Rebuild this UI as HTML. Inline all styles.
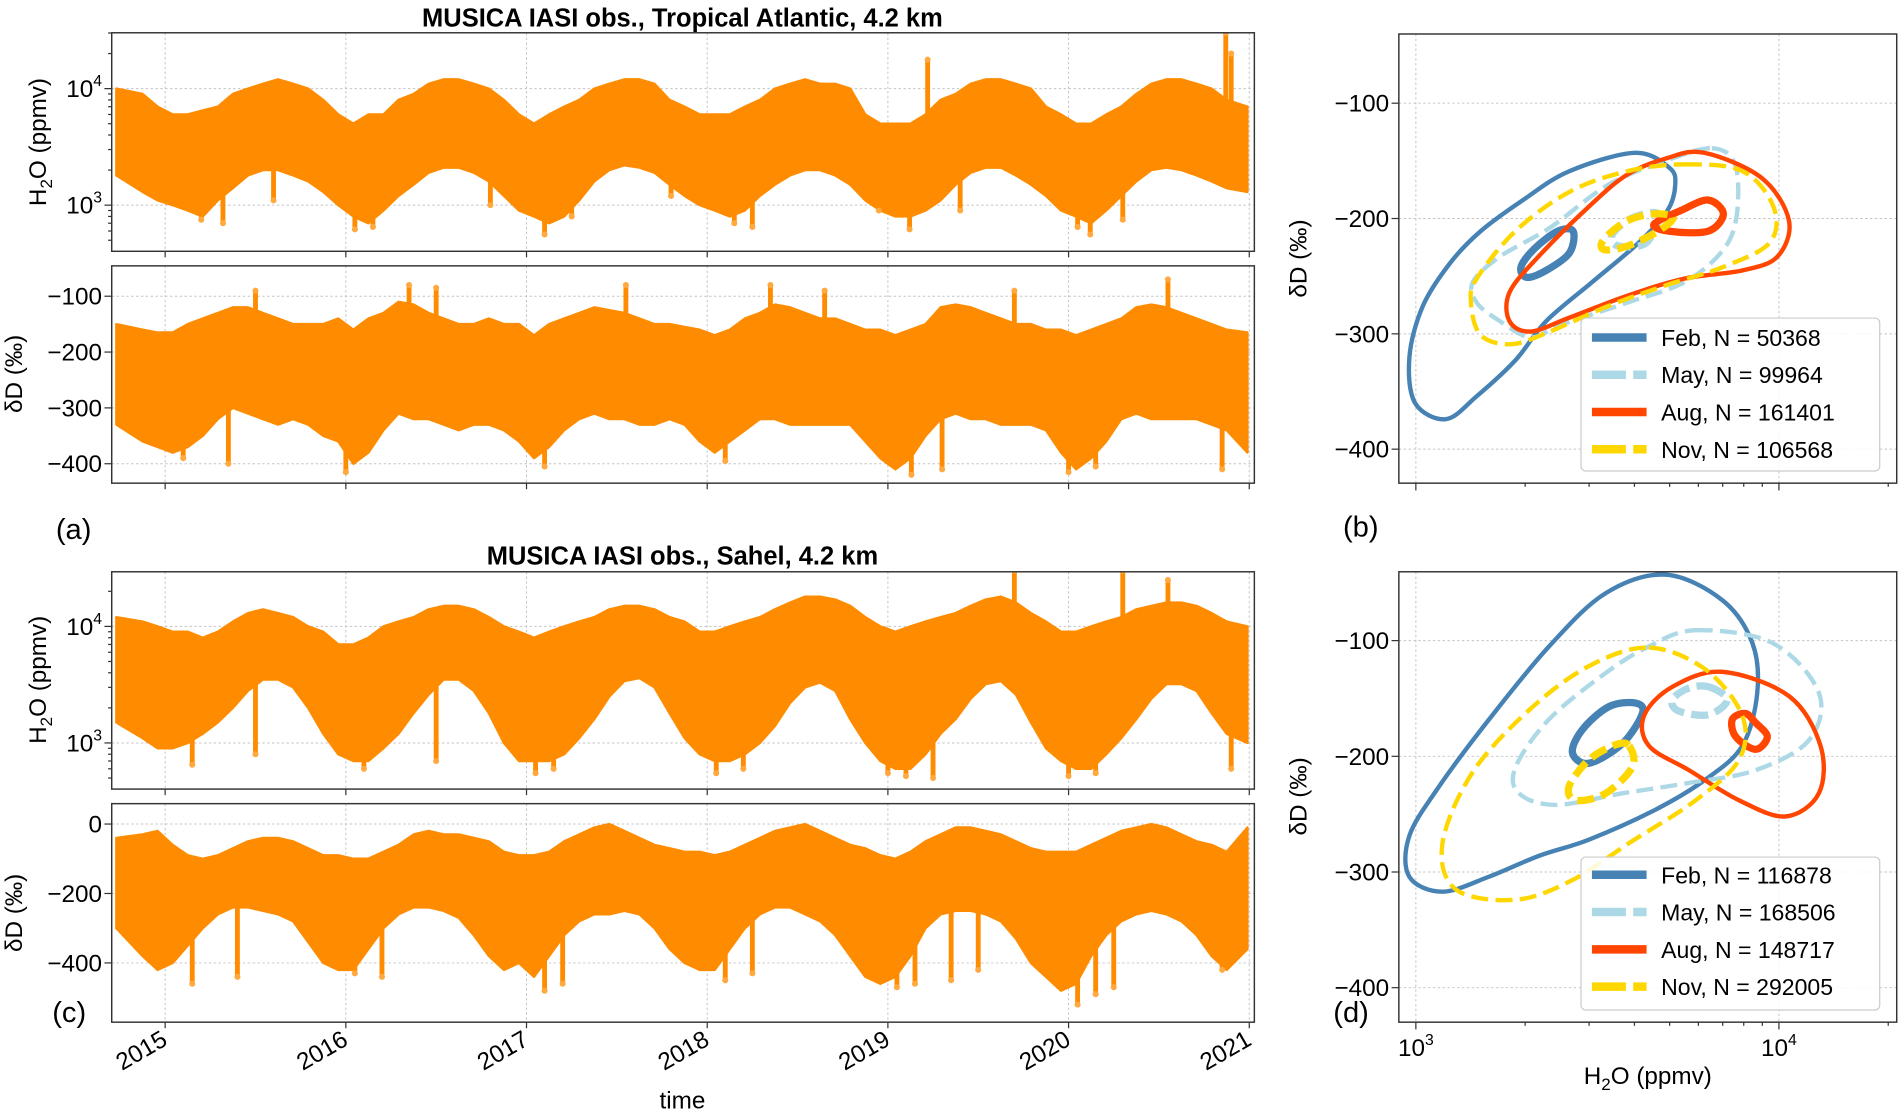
<!DOCTYPE html>
<html><head><meta charset="utf-8"><style>
html,body{margin:0;padding:0;background:#fff;}
svg{display:block;font-family:"Liberation Sans",sans-serif;}
.tk{font-size:20px;fill:#000;}
.lg{font-size:19px;fill:#000;}
.grid{stroke:#c4c4c4;stroke-width:0.8;stroke-dasharray:2,2;}
</style></head><body>
<svg id="fig" width="1904" height="1112" viewBox="0 0 1568 916" preserveAspectRatio="none" xmlns="http://www.w3.org/2000/svg">
<defs>
<clipPath id="cA1"><rect x="92" y="27" width="941" height="180"/></clipPath>
<clipPath id="cA2"><rect x="92" y="219" width="941" height="179"/></clipPath>
<clipPath id="cC1"><rect x="92" y="471" width="941" height="179"/></clipPath>
<clipPath id="cC2"><rect x="92" y="662" width="941" height="180"/></clipPath>
<clipPath id="cB"><rect x="1152" y="28" width="410" height="370"/></clipPath>
<clipPath id="cD"><rect x="1152" y="471" width="410" height="371"/></clipPath>
</defs>
<g id="layer"></g>
<text x="562" y="22" text-anchor="middle" style="font-size:21px;font-weight:bold">MUSICA IASI obs., Tropical Atlantic, 4.2 km</text>
<text x="562" y="465" text-anchor="middle" style="font-size:21px;font-weight:bold">MUSICA IASI obs., Sahel, 4.2 km</text>
<text x="46" y="444" style="font-size:24px">(a)</text>
<text x="1106" y="442" style="font-size:24px">(b)</text>
<text x="43" y="842" style="font-size:24px">(c)</text>
<text x="1098" y="842" style="font-size:24px">(d)</text>
<text x="562" y="913" text-anchor="middle" class="tk">time</text>
<text x="1357" y="893" text-anchor="middle" class="tk">H<tspan font-size="14" dy="5">2</tspan><tspan dy="-5">O (ppmv)</tspan></text>
<text transform="translate(38,117) rotate(-90)" text-anchor="middle" class="tk">H<tspan font-size="14" dy="5">2</tspan><tspan dy="-5">O (ppmv)</tspan></text>
<text transform="translate(18,308) rotate(-90)" text-anchor="middle" class="tk">δD (‰)</text>
<text transform="translate(38,560) rotate(-90)" text-anchor="middle" class="tk">H<tspan font-size="14" dy="5">2</tspan><tspan dy="-5">O (ppmv)</tspan></text>
<text transform="translate(18,752) rotate(-90)" text-anchor="middle" class="tk">δD (‰)</text>
<text transform="translate(1076,213) rotate(-90)" text-anchor="middle" class="tk">δD (‰)</text>
<text transform="translate(1076,656) rotate(-90)" text-anchor="middle" class="tk">δD (‰)</text>
</svg>
<script>
// ---- time series data (monthly envelopes, Oct 2014 .. Dec 2020) ----
const aH2oHi=[10,9,7, 6,6,6.5,7,9,10,11,12,11,10,8,6, 5,6,6,8,9,11,12,12,11,10,8,6, 5,6,7,8,10,11,12,12,11,8,7,6, 6,6,7,8,10,11,12,11,11,10,6,5, 5,5,6,8,9,11,12,12,11,10,7,6, 5,5,6,7,9,11,12,12,11,10,8,7];
const aH2oLo=[1.8,1.3,1.1, 1.0,0.9,0.8,1.1,1.4,1.8,2.0,2.0,1.8,1.6,1.3,1.0, 0.8,0.7,0.9,1.2,1.5,1.9,2.1,2.1,1.9,1.6,1.2,0.9, 0.8,0.7,0.8,1.1,1.6,2.0,2.2,2.1,1.9,1.5,1.2,1.0, 0.9,0.8,0.9,1.2,1.5,1.8,2.0,2.0,1.8,1.5,1.1,0.9, 0.8,0.8,0.9,1.1,1.5,1.9,2.1,2.1,1.8,1.5,1.2,0.9, 0.8,0.7,0.9,1.2,1.6,2.0,2.1,2.0,1.8,1.6,1.4,1.3];
const aDdHi=[-150,-160,-165, -165,-150,-140,-130,-120,-120,-130,-140,-150,-150,-150,-140, -160,-140,-130,-110,-115,-130,-140,-150,-150,-140,-150,-150, -170,-150,-140,-130,-120,-125,-130,-140,-150,-150,-155,-160, -170,-160,-140,-130,-115,-120,-130,-140,-140,-150,-160,-160, -170,-160,-150,-120,-115,-120,-130,-140,-150,-150,-160,-160, -170,-160,-150,-140,-120,-115,-120,-130,-140,-150,-160,-165];
const aDdLo=[-330,-360,-370, -380,-370,-350,-320,-300,-310,-320,-330,-320,-330,-350,-360, -400,-380,-340,-310,-320,-320,-330,-340,-330,-330,-340,-360, -390,-370,-340,-320,-310,-320,-320,-330,-330,-320,-330,-360, -380,-360,-340,-320,-320,-330,-330,-330,-330,-330,-360,-390, -410,-390,-350,-320,-310,-320,-320,-330,-330,-330,-340,-380, -410,-390,-360,-320,-310,-320,-320,-320,-320,-330,-340,-380];
const cH2oHi=[12,11,10, 9,9,8,9,11,13,14,13,12,10,9,7, 7,8,10,11,12,14,15,15,14,12,10,9, 8,9,10,11,12,14,15,15,14,12,11,9, 9,10,11,12,14,16,18,18,17,15,12,10, 9,10,11,12,13,15,17,18,16,13,11,9, 9,10,11,12,14,15,16,16,15,13,11,10];
const cH2oLo=[1.5,1.1,0.9, 0.9,1.0,1.2,1.5,2.0,2.8,3.5,3.5,3.0,2.0,1.2,0.8, 0.7,0.7,0.9,1.2,1.8,2.6,3.5,3.5,2.8,1.8,1.0,0.7, 0.7,0.7,0.8,1.1,1.6,2.5,3.4,3.6,3.0,1.8,1.1,0.8, 0.7,0.7,0.8,1.0,1.4,2.2,3.0,3.3,2.8,1.6,1.0,0.7, 0.6,0.6,0.8,1.2,1.6,2.4,3.2,3.4,2.6,1.5,0.9,0.7, 0.6,0.6,0.8,1.1,1.6,2.4,3.2,3.2,2.8,1.8,1.2,1.0];
const cDdHi=[-40,-30,-20, -60,-90,-100,-90,-70,-50,-40,-40,-50,-70,-90,-90, -100,-100,-80,-60,-30,-20,-30,-30,-40,-50,-80,-90, -90,-80,-50,-30,-10,0,-20,-40,-60,-70,-80,-80, -90,-80,-60,-40,-20,-10,0,-20,-40,-60,-70,-90, -100,-80,-50,-30,-10,-10,-20,-30,-50,-70,-80,-80, -80,-60,-40,-20,-10,0,-10,-30,-50,-60,-80,-10];
const cDdLo=[-300,-380,-420, -400,-350,-300,-260,-240,-240,-250,-260,-280,-340,-400,-420, -420,-360,-300,-260,-240,-240,-250,-270,-320,-380,-420,-400, -440,-380,-320,-280,-260,-260,-250,-260,-300,-360,-400,-420, -420,-360,-300,-260,-240,-240,-260,-280,-320,-380,-440,-460, -440,-380,-300,-260,-250,-250,-260,-280,-330,-400,-440,-480, -460,-380,-320,-280,-260,-250,-260,-280,-320,-380,-420,-360];
// spikes / outliers: [decimal year, value]
const aH2oSpikes=[[2015.2,750],[2015.32,700],[2015.6,1100],[2016.05,620],[2016.15,650],[2016.8,1000],[2017.1,560],[2017.25,800],[2017.8,1200],[2018.15,700],[2018.25,650],[2018.95,900],[2019.12,620],[2019.22,17700],[2019.4,900],[2020.05,650],[2020.12,560],[2020.3,750],[2020.87,30000],[2020.9,20000]];
const aDdSpikes=[[2015.1,-390],[2015.35,-400],[2015.5,-90],[2016.0,-415],[2016.35,-80],[2016.5,-85],[2017.1,-405],[2017.55,-80],[2018.1,-395],[2018.35,-80],[2018.65,-90],[2019.13,-420],[2019.3,-410],[2019.7,-90],[2020.0,-415],[2020.15,-405],[2020.55,-70],[2020.85,-410]];
const cH2oSpikes=[[2015.15,650],[2015.5,800],[2016.1,600],[2016.5,700],[2017.05,550],[2017.15,600],[2018.05,550],[2018.2,600],[2019.0,550],[2019.1,520],[2019.25,500],[2019.7,30000],[2020.0,520],[2020.15,550],[2020.3,30000],[2020.55,25000],[2020.9,600]];
const cDdSpikes=[[2015.15,-460],[2015.4,-440],[2016.05,-430],[2016.2,-440],[2017.1,-480],[2017.2,-460],[2018.1,-450],[2018.25,-430],[2019.05,-470],[2019.15,-460],[2019.35,-450],[2019.5,-420],[2020.05,-520],[2020.15,-490],[2020.25,-470],[2020.85,-420]];
const yearTicks=[2015,2016,2017,2018,2019,2020,2021];
const logTickLabels=["3","4"];
const ddTicksA=[-100,-200,-300,-400];
const ddTicksC=[0,-200,-400];
const ddTicksBD=[-100,-200,-300,-400];
// ---- contour data: [ppmv, permil] ----
const bFebOuter=[[4009,-143],[4994,-156],[5180,-171],[4933,-193],[4108,-221],[3063,-255],[2285,-289],[1879,-323],[1472,-354],[1210,-374],[995,-360],[960,-320],[1045,-276],[1240,-239],[1508,-211],[1973,-184],[2646,-159]];
const bFebInner=[[2711,-211],[2647,-230],[2285,-245],[2021,-251],[1948,-242],[2124,-226],[2457,-211]];
const bMayOuter=[[6535,-139],[7568,-153],[7660,-196],[7030,-227],[5508,-255],[3818,-273],[2519,-292],[2072,-303],[1704,-289],[1472,-273],[1436,-255],[1704,-233],[2340,-208],[3378,-171],[4874,-150]];
const bMayInner=[[4645,-196],[4315,-221],[3633,-224],[3461,-215],[3911,-200]];
const bAugOuter=[[6223,-143],[8979,-165],[10660,-202],[9906,-233],[7945,-245],[5508,-252],[3818,-267],[2646,-286],[2072,-298],[1811,-289],[1811,-264],[2176,-233],[2989,-190],[3818,-162],[4874,-148]];
const bAugInner=[[6380,-184],[7030,-196],[6380,-211],[4994,-211],[4528,-205],[5373,-193]];
const bNovOuter=[[5508,-153],[7945,-159],[9667,-190],[9430,-221],[7030,-242],[4874,-258],[3378,-276],[2340,-298],[1834,-309],[1508,-301],[1418,-273],[1472,-252],[1879,-211],[2646,-177],[3818,-159]];
const bNovInner=[[5117,-199],[4645,-211],[3818,-224],[3297,-227],[3297,-218],[3818,-202],[4528,-196]];
const dFebOuter=[[4877,-43],[6982,-65],[8447,-102],[8716,-145],[7925,-191],[6281,-220],[4579,-246],[2999,-272],[2185,-286],[1592,-304],[1184,-317],[959,-304],[959,-269],[1159,-226],[1592,-168],[2328,-105],[3333,-59]];
const dFebInner=[[4031,-154],[4206,-163],[3705,-189],[2999,-206],[2700,-197],[2874,-177],[3405,-157]];
const dMayOuter=[[5900,-91],[9590,-102],[12880,-145],[12100,-186],[8624,-212],[5653,-223],[3705,-232],[2429,-242],[1923,-232],[1884,-209],[2328,-168],[3333,-128],[4386,-105]];
const dMayInner=[[6416,-140],[7208,-151],[6416,-164],[5307,-161],[5084,-151],[5653,-141]];
const dAugOuter=[[6982,-127],[10660,-148],[13020,-191],[12880,-232],[10430,-252],[7763,-238],[5653,-212],[4386,-191],[4250,-165],[5084,-140]];
const dAugInner=[[8624,-171],[9290,-183],[8624,-194],[7600,-183],[7443,-168],[8090,-163]];
const dNovOuter=[[4386,-106],[6281,-125],[7925,-165],[7763,-203],[5900,-238],[3866,-275],[2700,-307],[1884,-324],[1288,-315],[1184,-275],[1432,-214],[2051,-160],[2999,-122]];
const dNovInner=[[3866,-191],[3950,-209],[3333,-232],[2757,-238],[2642,-226],[2999,-203],[3551,-190]];
const legendB=["Feb, N = 50368","May, N = 99964","Aug, N = 161401","Nov, N = 106568"];
const legendD=["Feb, N = 116878","May, N = 168506","Aug, N = 148717","Nov, N = 292005"];

const NS="http://www.w3.org/2000/svg";
const L=document.getElementById('layer');
function mk(tag,attrs,parent){const e=document.createElementNS(NS,tag);for(const k in attrs)e.setAttribute(k,attrs[k]);(parent||L).appendChild(e);return e;}

const X0=92,X1=1033;
function xTime(t){return 136+(t-2015)*148.8;}
function monthT(i){return 2014+(9+i)/12+1/24;}
function logY(base3,dec){return v=>base3-dec*(Math.log10(v)-3);}
const yA1=logY(169,96), yC1=logY(612,96);
const yA2=d=>290-0.46*(d+200);
const yC2=d=>736-0.286*(d+200);
const xLog=v=>1166+299*(Math.log10(v)-3);
const yB=d=>180-0.95*(d+200);
const yD=d=>623-0.953*(d+200);

function frame(x,y,w,h,name){const r=mk('rect',{x:x,y:y,width:w,height:h,fill:'none',stroke:'#333','stroke-width':1.2});

}

function tsPanel(hi,lo,spikes,yf,clip,name,scale){
  const g=mk('g',{'clip-path':'url(#'+clip+')'});
  
  
  let pts=[];
  const tt=i=>{let t=monthT(i);if(i==0)t=2014.73;if(i==hi.length-1)t=2020.99;return t;};
  for(let i=0;i<hi.length;i++)pts.push(xTime(tt(i))+','+yf(scale(hi[i])));
  for(let i=lo.length-1;i>=0;i--)pts.push(xTime(tt(i))+','+yf(scale(lo[i])));
  const p=mk('polygon',{points:pts.join(' '),fill:'#ff8c00',stroke:'#ff8c00','stroke-width':2,'stroke-linejoin':'round'},g);
  
  
  const mid=i=>(yf(scale(hi[i]))+yf(scale(lo[i])))/2;
  spikes.forEach(s=>{
    const x=xTime(s[0]);let i=Math.round((s[0]-2014-9/12-1/24)*12);i=Math.max(0,Math.min(hi.length-1,i));
    const y=yf(scale(s[1]));
    const ln=mk('line',{x1:x,x2:x,y1:mid(i),y2:y,stroke:'#ff8c00','stroke-width':4},g);
    
    
    const dm=mk('circle',{cx:x,cy:y,r:2.5,fill:'#ffa940'},g);
    
    
  });
}
function gridH(y,x0,x1){mk('line',{x1:x0,x2:x1,y1:y,y2:y,class:'grid'});}
function gridV(x,y0,y1){mk('line',{x1:x,x2:x,y1:y0,y2:y1,class:'grid'});}

const panels=[[27,207],[219,398],[471,650],[662,842]];
panels.forEach(p=>yearTicks.forEach(yr=>{gridV(xTime(yr),p[0],p[1]);mk('line',{x1:xTime(yr),x2:xTime(yr),y1:p[1],y2:p[1]+5,stroke:'#333'});}));
[[yA1,27,207],[yC1,471,650]].forEach(([f,t,b])=>{
  logTickLabels.forEach(e=>{const y=f(Math.pow(10,+e));gridH(y,X0,X1);mk('line',{x1:X0-6,x2:X0,y1:y,y2:y,stroke:'#333'});
    const tx=mk('text',{x:X0-8,y:y+7,'text-anchor':'end',class:'tk'});tx.innerHTML='10<tspan font-size="13" dy="-9">'+e+'</tspan>';
    
    });
  for(let d=2;d<=9;d++)[2,3,4].forEach(dec=>{const y=f(d*Math.pow(10,dec));if(y>t&&y<b)mk('line',{x1:X0-3,x2:X0,y1:y,y2:y,stroke:'#333'});});
});
[[yA2,ddTicksA],[yC2,ddTicksC]].forEach(([f,ticks])=>ticks.forEach(d=>{const y=f(d);gridH(y,X0,X1);mk('line',{x1:X0-6,x2:X0,y1:y,y2:y,stroke:'#333'});
  const tx=mk('text',{x:X0-8,y:y+7,'text-anchor':'end',class:'tk'});tx.textContent=(d<0?'\u2212':'')+Math.abs(d);
  
  }));
const k=v=>v*1000, id=v=>v;
tsPanel(aH2oHi,aH2oLo,aH2oSpikes.map(s=>[s[0],s[1]/1000]),yA1,'cA1','series-a-h2o',k);
tsPanel(aDdHi,aDdLo,aDdSpikes,yA2,'cA2','series-a-dd',id);
tsPanel(cH2oHi,cH2oLo,cH2oSpikes.map(s=>[s[0],s[1]/1000]),yC1,'cC1','series-c-h2o',k);
tsPanel(cDdHi,cDdLo,cDdSpikes,yC2,'cC2','series-c-dd',id);
frame(92,27,941,180,'panel-a-h2o');frame(92,219,941,179,'panel-a-dd');frame(92,471,941,179,'panel-c-h2o');frame(92,662,941,180,'panel-c-dd');
yearTicks.forEach(yr=>{const tx=mk('text',{transform:'translate('+(xTime(yr)+3)+',860) rotate(-30)','text-anchor':'end',class:'tk'});tx.textContent=yr;
  
  });

function smooth(pts){const n=pts.length;let d='M'+pts[0][0]+','+pts[0][1];
  for(let i=0;i<n;i++){const p0=pts[(i-1+n)%n],p1=pts[i],p2=pts[(i+1)%n],p3=pts[(i+2)%n];
    d+=' C'+(p1[0]+(p2[0]-p0[0])/6)+','+(p1[1]+(p2[1]-p0[1])/6)+' '+(p2[0]-(p3[0]-p1[0])/6)+','+(p2[1]-(p3[1]-p1[1])/6)+' '+p2[0]+','+p2[1];}
  return d+'Z';}
const styles={Feb:['#4682b4',null],May:['#add8e6','14,6'],Aug:['#ff4500',null],Nov:['#ffd700','14,6']};
function contour(data,yf,clip,month,w,name){const pts=data.map(p=>[xLog(p[0]),yf(p[1])]);
  const a={d:smooth(pts),fill:'none',stroke:styles[month][0],'stroke-width':w,'clip-path':'url(#'+clip+')'};
  if(styles[month][1])a['stroke-dasharray']=styles[month][1];
  const p=mk('path',a);
  
  }
function scatterAxes(top,bot,yf,ticks){
  [1000,10000].forEach(v=>{gridV(xLog(v),top,bot);mk('line',{x1:xLog(v),x2:xLog(v),y1:bot,y2:bot+6,stroke:'#333'});});
  for(let d=2;d<=9;d++){[1000,10000].forEach(b=>{const x=xLog(d*b);if(x<1562)mk('line',{x1:x,x2:x,y1:bot,y2:bot+3,stroke:'#333'});});}
  ticks.forEach(d=>{const y=yf(d);gridH(y,1152,1562);mk('line',{x1:1146,x2:1152,y1:y,y2:y,stroke:'#333'});
    const tx=mk('text',{x:1144,y:y+7,'text-anchor':'end',class:'tk'});tx.textContent='\u2212'+Math.abs(d);
    
    });
}
scatterAxes(28,398,yB,ddTicksBD);
scatterAxes(471,842,yD,ddTicksBD);
[['Feb',bFebOuter,bFebInner],['May',bMayOuter,bMayInner],['Aug',bAugOuter,bAugInner],['Nov',bNovOuter,bNovInner]].forEach(([m,o,i])=>{
  contour(o,yB,'cB',m,3.6,'contour-b-'+m.toLowerCase()+'-outer');contour(i,yB,'cB',m,6,'contour-b-'+m.toLowerCase()+'-inner');});
[['Feb',dFebOuter,dFebInner],['May',dMayOuter,dMayInner],['Aug',dAugOuter,dAugInner],['Nov',dNovOuter,dNovInner]].forEach(([m,o,i])=>{
  contour(o,yD,'cD',m,3.6,'contour-d-'+m.toLowerCase()+'-outer');contour(i,yD,'cD',m,6,'contour-d-'+m.toLowerCase()+'-inner');});
frame(1152,28,410,370,'panel-b');frame(1152,471,410,371,'panel-d');
[['b',262,126,278],['d',706,126,720.6]].forEach(([n,y,h,e0])=>{
  const g=mk('g',{});
  
  
  mk('rect',{x:1302,y:y,width:246,height:h,rx:4,fill:'#fff','fill-opacity':0.85,stroke:'#ccc'},g);
  const labels=n=='b'?legendB:legendD;
  ['Feb','May','Aug','Nov'].forEach((m,i)=>{const yy=e0+i*30.7;
    const a={x1:1311,x2:1356,y1:yy,y2:yy,stroke:styles[m][0],'stroke-width':7};if(styles[m][1])a['stroke-dasharray']='28,6';
    mk('line',a,g);
    const t=mk('text',{x:1368,y:yy+7,class:'lg'},g);t.textContent=labels[i];
    
    });
});
[[1166,'3'],[1465,'4']].forEach(([x,e])=>{const tx=mk('text',{x:x,y:870,'text-anchor':'middle',class:'tk'});tx.innerHTML='10<tspan font-size="13" dy="-9">'+e+'</tspan>';
  
  });
</script>
</body></html>
